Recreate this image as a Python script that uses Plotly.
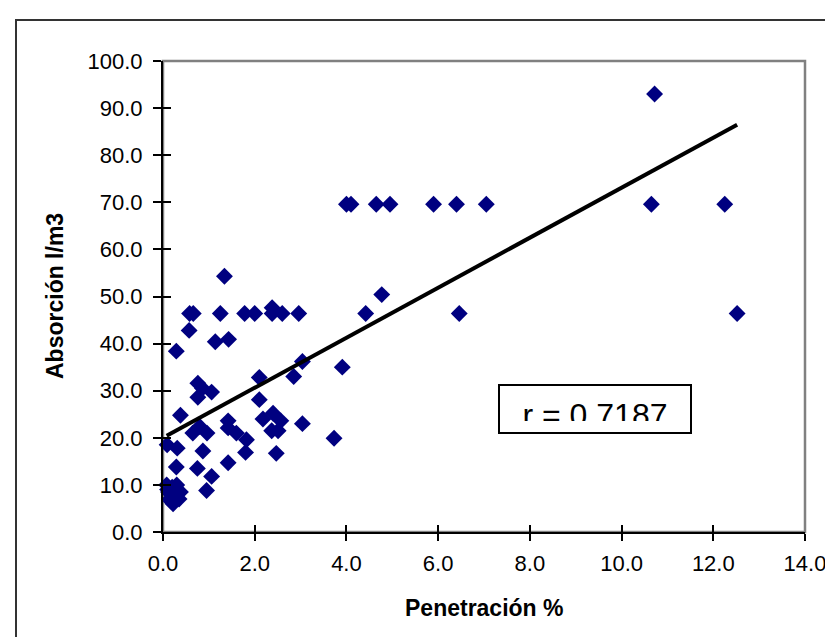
import plotly.graph_objects as go

# ---- data ----
penetracion = [
    4.00, 4.10, 4.65, 4.95, 5.90, 6.40, 7.05, 10.65, 12.25,
    10.72,
    0.58, 0.66, 1.25, 1.78, 2.00, 2.38, 2.60, 2.96, 4.42, 6.46, 12.52,
    2.38, 1.34, 4.77, 0.57, 1.14, 1.43, 0.29, 3.04, 3.91, 2.85, 2.10,
    0.76, 0.86, 1.06, 0.76, 2.10, 0.38, 1.42, 2.18, 2.40, 2.57, 3.04,
    2.37, 2.51, 1.42, 0.80, 0.65, 0.96, 1.60, 1.82, 3.73, 0.09, 0.31,
    0.87, 1.80, 2.47, 0.29, 0.75, 1.42, 1.06, 0.95,
    0.08, 0.12, 0.15, 0.20, 0.22, 0.28, 0.30, 0.35, 0.38, 0.18, 0.25, 0.10,
]
absorcion = [
    69.6, 69.6, 69.6, 69.6, 69.6, 69.6, 69.6, 69.6, 69.6,
    93.0,
    46.4, 46.4, 46.4, 46.4, 46.4, 46.4, 46.4, 46.4, 46.4, 46.4, 46.4,
    47.6, 54.3, 50.4, 42.8, 40.4, 40.9, 38.4, 36.2, 35.0, 33.0, 32.8,
    31.6, 30.5, 29.7, 28.6, 28.1, 24.8, 23.6, 24.0, 25.2, 23.6, 23.0,
    21.5, 21.5, 22.1, 22.4, 21.0, 21.0, 21.0, 19.6, 19.9, 18.5, 17.8,
    17.2, 16.9, 16.7, 13.8, 13.5, 14.7, 11.8, 8.8,
    10.0, 8.5, 7.0, 9.5, 6.0, 8.0, 10.0, 7.0, 8.5, 6.5, 7.5, 9.0,
]
trend_intercept = 20.0
trend_slope = 5.31
r_label = "r = 0.7187"
x_title = "Penetración %"
y_title = "Absorción l/m3"

FONT = "Liberation Sans, Arial, sans-serif"

trend_x = [min(penetracion), max(penetracion)]
trend_y = [trend_intercept + trend_slope * v for v in trend_x]

fig = go.Figure()
fig.add_trace(go.Scatter(
    x=penetracion, y=absorcion, mode="markers",
    marker=dict(symbol="diamond", size=13, color="#000080", line=dict(width=0)),
    cliponaxis=False, showlegend=False, hoverinfo="skip",
))
fig.add_trace(go.Scatter(
    x=trend_x, y=trend_y, mode="lines",
    line=dict(color="black", width=4),
    cliponaxis=False, showlegend=False, hoverinfo="skip",
))
# r label as text trace (so the white mask shape can clip its bottom)
fig.add_trace(go.Scatter(
    x=[9.42], y=[24.1], mode="text", text=[r_label],
    textposition="middle center",
    textfont=dict(family=FONT, size=32, color="black"),
    cliponaxis=False, showlegend=False, hoverinfo="skip",
))
# invisible trace for overlay axes
fig.add_trace(go.Scatter(x=[0], y=[0], xaxis="x2", yaxis="y2", mode="markers",
                         marker=dict(opacity=0), showlegend=False, hoverinfo="skip"))

L, R, T, B = 155, 36, 53, 113
W, H = 833, 637
pw = W - L - R
ph = H - T - B

def px(xp):
    return (xp - L) / pw

def py(yp):
    return (H - B - yp) / ph

shapes = [
    # plot area border (gray)
    dict(type="rect", xref="paper", yref="paper", x0=0, x1=1, y0=0, y1=1,
         line=dict(color="#808080", width=2.5), layer="below"),
    # chart area border
    dict(type="rect", xref="paper", yref="paper", x0=px(8), x1=px(845), y0=py(650), y1=py(12),
         line=dict(color="#333333", width=2), layer="below"),
    # white mask clipping bottom of r label
    dict(type="rect", xref="paper", yref="paper", x0=px(492), x1=px(682), y0=py(424), y1=py(413),
         line=dict(width=0), fillcolor="white", layer="above"),
    # text box border
    dict(type="rect", xref="paper", yref="paper", x0=px(491), x1=px(683), y0=py(425), y1=py(377),
         line=dict(color="black", width=2), layer="above"),
]

annotations = [
    dict(text=x_title, xref="paper", yref="paper", x=px(477), y=py(600),
         xanchor="center", yanchor="middle", showarrow=False,
         font=dict(family=FONT, size=23, color="black", weight="bold")),
    dict(text=y_title, xref="paper", yref="paper", x=px(47), y=py(288),
         xanchor="center", yanchor="middle", showarrow=False, textangle=-90,
         font=dict(family=FONT, size=23, color="black", weight="bold")),
]

tickfont = dict(family=FONT, size=22, color="black")

fig.update_layout(
    width=W, height=H,
    margin=dict(l=L, r=R, t=T, b=B, pad=0),
    paper_bgcolor="white", plot_bgcolor="white",
    shapes=shapes, annotations=annotations,
    xaxis=dict(range=[0, 14], dtick=2, tick0=0, tickformat=".1f",
               showgrid=False, zeroline=False, showline=True, linecolor="black", linewidth=2,
               ticks="outside", ticklen=7, tickwidth=1.5, tickcolor="black",
               ticklabelstandoff=4, tickfont=tickfont, fixedrange=True),
    yaxis=dict(range=[0, 100], dtick=10, tick0=0, tickformat=".1f",
               showgrid=False, zeroline=False, showline=True, linecolor="black", linewidth=2,
               ticks="outside", ticklen=8, tickwidth=1.5, tickcolor="black",
               ticklabelstandoff=6, tickfont=tickfont, fixedrange=True),
    xaxis2=dict(range=[0, 14], dtick=2, tick0=0, overlaying="x", showticklabels=False,
                showgrid=False, zeroline=False, showline=False,
                ticks="inside", ticklen=7, tickwidth=1.5, tickcolor="black", side="bottom"),
    yaxis2=dict(range=[0, 100], dtick=10, tick0=0, overlaying="y", showticklabels=False,
                showgrid=False, zeroline=False, showline=False,
                ticks="inside", ticklen=8, tickwidth=1.5, tickcolor="black", side="left"),
)

fig.write_html("out.html")
